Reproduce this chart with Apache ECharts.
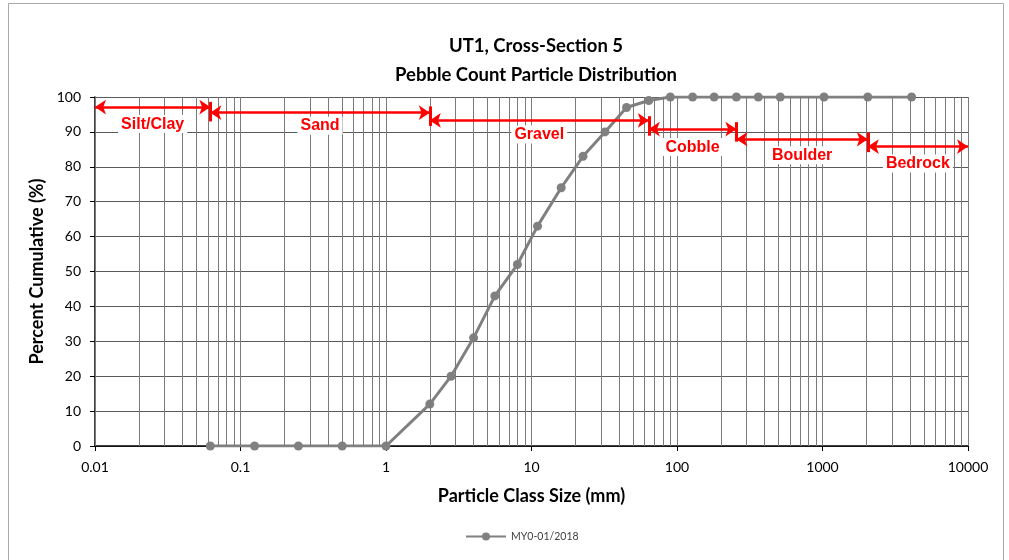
<!DOCTYPE html>
<html>
<head>
<meta charset="utf-8">
<script src="https://cdn.jsdelivr.net/npm/echarts@6/dist/echarts.min.js"></script>
<style>
  html, body { margin: 0; padding: 0; background: #fff; }
  #chart { width: 1009px; height: 560px; }
</style>
</head>
<body>
<div id="chart"></div>
<script>
// particle class sizes (mm) and cumulative percent
var sizes = [0.062, 0.125, 0.25, 0.5, 1, 2, 2.8, 4, 5.6, 8, 11, 16, 22.6, 32, 45, 64, 90, 128, 180, 256, 362, 512, 1024, 2048, 4096];
var cumulative = [0, 0, 0, 0, 0, 12, 20, 31, 43, 52, 63, 74, 83, 90, 97, 99, 100, 100, 100, 100, 100, 100, 100, 100, 100];

// size classes and their boundaries (mm)
var classNames = ["Silt/Clay", "Sand", "Gravel", "Cobble", "Boulder", "Bedrock"];
var classBounds = [0.01, 0.062, 2, 64, 256, 2048, 10000];

// where the red arrows sit (percent axis units) and label gaps (px)
var arrowLevels = [97.1, 95.5, 93.3, 90.8, 87.9, 85.8];
var labelGaps = [8, 4, 5, 9, 7, 8];
var barCenters = [95.8, 94.5, 91.7, 90, 87];
var barHalf = 2.8;

var FONT = "Lato";
var RED = "#ff0000";

// log grid lines 1..9 per decade
var gridVals = [];
for (var e = -2; e <= 3; e++) {
  for (var m = 1; m <= 9; m++) {
    gridVals.push(Number((m * Math.pow(10, e)).toPrecision(3)));
  }
}
gridVals.push(10000);

var seriesData = sizes.map(function (s, i) { return [s, cumulative[i]]; });

var arrowLines = classNames.map(function (name, i) {
  return [
    { coord: [classBounds[i], arrowLevels[i]], name: name, label: { distance: labelGaps[i] } },
    { coord: [classBounds[i + 1], arrowLevels[i]] }
  ];
});
var barLines = barCenters.map(function (c, i) {
  return [
    { coord: [classBounds[i + 1], c + barHalf] },
    { coord: [classBounds[i + 1], c - barHalf] }
  ];
});

var chart = echarts.init(document.getElementById("chart"));
chart.setOption({
  animation: false,
  textStyle: { fontFamily: FONT },
  title: {
    text: "UT1, Cross-Section 5\nPebble Count Particle Distribution",
    left: 531,
    textAlign: "center",
    top: 27,
    textStyle: { fontFamily: FONT, fontSize: 18.5, fontWeight: "bold", color: "#000", lineHeight: 29 }
  },
  graphic: [{
    type: "rect",
    shape: { x: 8.5, y: 3.5, width: 995, height: 620 },
    style: { fill: null, stroke: "#aaaaaa", lineWidth: 1 },
    silent: true
  }],
  legend: {
    data: ["MY0-01/2018"],
    left: 460,
    top: 526,
    itemWidth: 40,
    itemHeight: 10,
    itemGap: 4,
    textStyle: { fontFamily: FONT, fontSize: 10.5, color: "#404040" }
  },
  grid: { left: 95, right: 41, top: 97, bottom: 114 },
  xAxis: {
    type: "log",
    logBase: 10,
    min: 0.01,
    max: 10000,
    name: "Particle Class Size (mm)",
    nameLocation: "middle",
    nameGap: 41,
    nameTextStyle: { fontFamily: FONT, fontSize: 18, fontWeight: "bold", color: "#000" },
    axisLine: { show: true, lineStyle: { color: "#000", width: 1.5 } },
    axisTick: { show: true, inside: false, length: 5, lineStyle: { color: "#000" } },
    axisLabel: {
      fontFamily: FONT, fontSize: 14, color: "#000", margin: 14,
      formatter: function (v) { return String(Number(v.toPrecision(4))); }
    },
    splitLine: { show: false },
    minorTick: { show: false }
  },
  yAxis: {
    type: "value",
    min: 0,
    max: 100,
    interval: 10,
    name: "Percent Cumulative (%)",
    nameLocation: "middle",
    nameGap: 47,
    nameTextStyle: { fontFamily: FONT, fontSize: 18, fontWeight: "bold", color: "#000" },
    axisLine: { show: true, lineStyle: { color: "#000", width: 1.5 } },
    axisTick: { show: true, inside: false, length: 5, lineStyle: { color: "#000" } },
    axisLabel: { fontFamily: FONT, fontSize: 14, color: "#000", margin: 14 },
    splitLine: { show: true, lineStyle: { color: "#5a5a5a", width: 1 } }
  },
  series: [
    {
      name: "grid",
      type: "line",
      data: [],
      silent: true,
      z: 1,
      markLine: {
        silent: true,
        symbol: "none",
        label: { show: false },
        lineStyle: { color: "#7a7a7a", width: 1, type: "solid" },
        data: gridVals.map(function (v) { return { xAxis: v }; })
      }
    },
    {
      name: "MY0-01/2018",
      type: "line",
      data: seriesData,
      z: 3,
      symbol: "circle",
      symbolSize: 9,
      itemStyle: { color: "#808080" },
      lineStyle: { color: "#808080", width: 3 }
    },
    {
      name: "classes",
      type: "line",
      data: [],
      silent: true,
      z: 4,
      markLine: {
        silent: true,
        symbol: ["arrow", "arrow"],
        symbolSize: [11, 11],
        lineStyle: { color: RED, width: 2.5, type: "solid" },
        label: {
          show: true,
          position: "insideMiddleBottom",
          formatter: "{b}",
          fontFamily: "Liberation Sans",
          fontSize: 16,
          fontWeight: "bold",
          color: RED,
          backgroundColor: "#fff",
          padding: [1, 3]
        },
        data: arrowLines
      }
    },
    {
      name: "bounds",
      type: "line",
      data: [],
      silent: true,
      z: 4,
      markLine: {
        silent: true,
        symbol: "none",
        label: { show: false },
        lineStyle: { color: RED, width: 3, type: "solid" },
        data: barLines
      }
    }
  ]
});
</script>
</body>
</html>
